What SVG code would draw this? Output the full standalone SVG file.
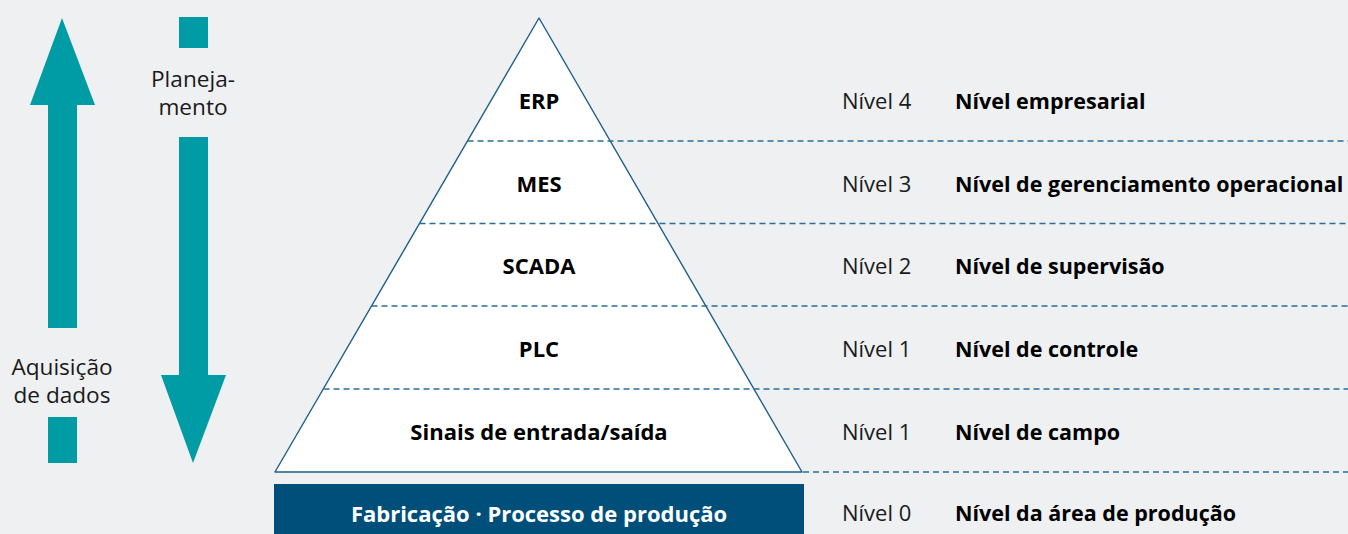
<svg xmlns="http://www.w3.org/2000/svg" width="1348" height="534" viewBox="0 0 1348 534">
<style>
.teal{fill:#009ca6}
.dash{stroke:#2a6e96;stroke-width:1.3;stroke-dasharray:6 4;fill:none}
.lbl{font-family:"Open Sans","Liberation Sans",sans-serif;font-size:22px;fill:#1a1a1a}
.side{font-size:22.6px}
.b{font-weight:bold;fill:#000}
.r{font-size:21.5px}
.c{text-anchor:middle}
</style>
<rect width="1348" height="534" fill="#eef0f2"/>
<g id="arrow-up">
<polygon class="teal" points="62,18 95,105 77,105 77,328 48,328 48,105 30,105"/>
<rect class="teal" x="48" y="417" width="29" height="46"/>
<text class="lbl side c" x="62" y="375">Aquisição</text>
<text class="lbl side c" x="62" y="403">de dados</text>
</g>
<g id="arrow-down">
<rect class="teal" x="179" y="17" width="29" height="31"/>
<polygon class="teal" points="179,137 208,137 208,375 226,375 193,463 161,375 179,375"/>
<text class="lbl side c" x="193" y="87">Planeja-</text>
<text class="lbl side c" x="193" y="115">mento</text>
</g>
<g id="pyramid">
<polygon points="539,18 802,472 275,472" fill="#fff" stroke="#1b5e8c" stroke-width="1.4" stroke-linejoin="round"/>
</g>
<g id="connectors">
<line class="dash" x1="467.5" y1="141" x2="1348" y2="141"/>
<line class="dash" x1="419.5" y1="223.5" x2="1348" y2="223.5"/>
<line class="dash" x1="371.5" y1="306" x2="1348" y2="306"/>
<line class="dash" x1="323.5" y1="389" x2="1348" y2="389"/>
<line class="dash" x1="803" y1="472" x2="1348" y2="472"/>
</g>
<g id="erp"><text class="lbl b c" x="539" y="109">ERP</text></g>
<g id="mes"><text class="lbl b c" x="539" y="192">MES</text></g>
<g id="scada"><text class="lbl b c" x="539" y="274">SCADA</text></g>
<g id="plc"><text class="lbl b c" x="539" y="357">PLC</text></g>
<g id="io"><text class="lbl b c" x="539" y="440">Sinais de entrada/saída</text></g>
<g id="fabricacao">
<rect x="274" y="484" width="530" height="50" fill="#004f7a"/>
<text class="lbl b c" x="539" y="522" style="fill:#fff">Fabricação · Processo de produção</text>
</g>
<g id="levels">
<text class="lbl" x="842" y="109">Nível 4</text><text class="lbl b r" x="955" y="109">Nível empresarial</text>
<text class="lbl" x="842" y="192">Nível 3</text><text class="lbl b r" x="955" y="192">Nível de gerenciamento operacional</text>
<text class="lbl" x="842" y="274">Nível 2</text><text class="lbl b r" x="955" y="274">Nível de supervisão</text>
<text class="lbl" x="842" y="357">Nível 1</text><text class="lbl b r" x="955" y="357">Nível de controle</text>
<text class="lbl" x="842" y="440">Nível 1</text><text class="lbl b r" x="955" y="440">Nível de campo</text>
<text class="lbl" x="842" y="521">Nível 0</text><text class="lbl b r" x="955" y="521">Nível da área de produção</text>
</g>
</svg>
